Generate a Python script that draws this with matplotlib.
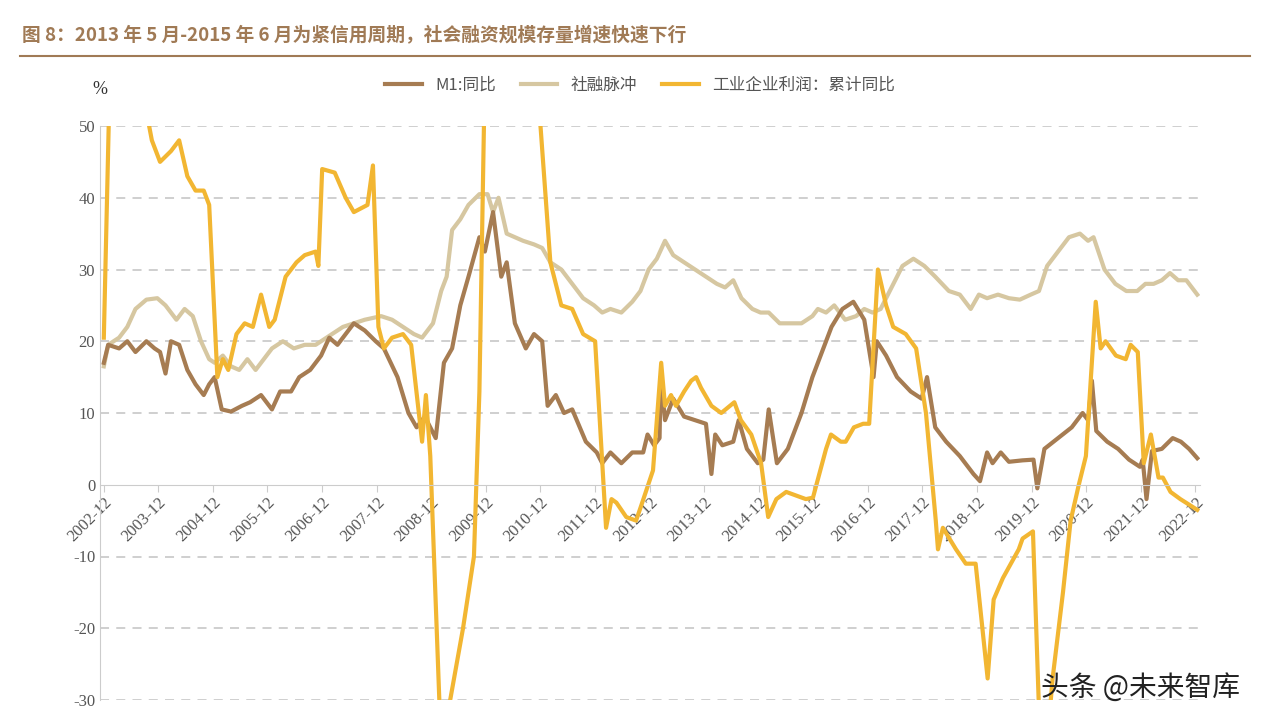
import matplotlib
matplotlib.use("Agg")
import matplotlib.pyplot as plt
import numpy as np

plt.rcParams['font.family'] = ['Noto Sans CJK SC', 'DejaVu Sans']
plt.rcParams['axes.unicode_minus'] = False

m1_t = [2002.92,2003.0,2003.2,2003.35,2003.5,2003.7,2003.85,2003.95,2004.05,2004.15,2004.3,2004.45,2004.6,2004.75,2004.85,2004.95,2005.08,2005.25,2005.45,2005.6,2005.8,2006.0,2006.15,2006.35,2006.5,2006.7,2006.9,2007.05,2007.2,2007.35,2007.5,2007.7,2007.9,2008.05,2008.3,2008.5,2008.65,2008.8,2009.0,2009.15,2009.3,2009.45,2009.6,2009.8,2009.9,2010.05,2010.2,2010.3,2010.45,2010.65,2010.8,2010.95,2011.05,2011.2,2011.35,2011.5,2011.75,2011.95,2012.05,2012.2,2012.4,2012.6,2012.8,2012.88,2013.0,2013.1,2013.12,2013.2,2013.35,2013.55,2013.75,2013.95,2014.05,2014.12,2014.25,2014.45,2014.55,2014.7,2014.9,2015.0,2015.1,2015.25,2015.45,2015.7,2015.9,2016.05,2016.25,2016.45,2016.65,2016.85,2017.02,2017.08,2017.25,2017.45,2017.7,2017.9,2018.0,2018.15,2018.35,2018.6,2018.85,2018.97,2019.1,2019.2,2019.35,2019.5,2019.75,2019.95,2020.02,2020.15,2020.4,2020.65,2020.85,2020.95,2021.02,2021.1,2021.3,2021.5,2021.7,2021.9,2021.95,2022.02,2022.12,2022.3,2022.5,2022.65,2022.8,2022.95]
m1_v = [17,19.5,19,20,18.5,20,19,18.5,15.5,20,19.5,16,14,12.5,14,15,10.5,10.2,11,11.5,12.5,10.5,13,13,15,16,18,20.5,19.5,21,22.5,21.5,20,19,15,10,8,9.5,6.5,17,19,25,29,34.5,32.5,38,29,31,22.5,19,21,20,11,12.5,10,10.5,6,4.5,3,4.5,3,4.5,4.5,7,5.5,6.5,15,9,12,9.5,9,8.5,1.5,7,5.5,6,9,5,3,3.5,10.5,3,5,10,15,18,22,24.5,25.5,23,15,20,18,15,13,12,15,8,6,4,1.5,0.5,4.5,3,4.5,3.2,3.4,3.5,-0.5,5,6.5,8,10,9,14.5,7.5,6,5,3.5,2.5,3.5,-2,4.7,5,6.5,6,5,3.7]

tsf_t = [2002.92,2003.0,2003.2,2003.35,2003.5,2003.7,2003.9,2004.05,2004.25,2004.4,2004.55,2004.7,2004.85,2004.95,2005.1,2005.25,2005.4,2005.55,2005.7,2005.85,2006.0,2006.2,2006.4,2006.6,2006.8,2007.0,2007.3,2007.5,2007.7,2008.0,2008.2,2008.4,2008.6,2008.75,2008.95,2009.1,2009.2,2009.3,2009.45,2009.6,2009.8,2009.95,2010.05,2010.15,2010.3,2010.45,2010.6,2010.8,2010.95,2011.1,2011.3,2011.5,2011.7,2011.9,2012.05,2012.2,2012.4,2012.6,2012.75,2012.9,2013.05,2013.2,2013.35,2013.55,2013.75,2013.95,2014.15,2014.3,2014.45,2014.6,2014.8,2014.95,2015.1,2015.3,2015.5,2015.7,2015.9,2016.0,2016.15,2016.3,2016.5,2016.7,2016.85,2017.0,2017.15,2017.35,2017.55,2017.75,2017.95,2018.15,2018.4,2018.6,2018.8,2018.95,2019.1,2019.3,2019.5,2019.7,2019.9,2020.05,2020.2,2020.4,2020.6,2020.8,2020.95,2021.05,2021.25,2021.45,2021.65,2021.85,2022.0,2022.15,2022.3,2022.45,2022.6,2022.75,2022.95]
tsf_v = [16.5,19.5,20.5,22,24.5,25.8,26,25,23,24.5,23.5,20,17.5,17,18,16.5,16,17.5,16,17.5,19,20,19,19.5,19.5,20.5,22,22.5,23,23.5,23,22,21,20.5,22.5,27,29,35.5,37,39,40.5,40.5,38,40,35,34.5,34,33.5,33,31,30,28,26,25,24,24.5,24,25.5,27,30,31.5,34,32,31,30,29,28,27.5,28.5,26,24.5,24,24,22.5,22.5,22.5,23.5,24.5,24,25,23,23.5,24.5,24,24.5,27.5,30.5,31.5,30.5,29,27,26.5,24.5,26.5,26,26.5,26,25.8,26.5,27,30.5,32.5,34.5,35,34,34.5,30,28,27,27,28,28,28.5,29.5,28.5,28.5,26.5]

ip_t = [2002.92,2003.1,2003.7,2003.8,2003.95,2004.15,2004.3,2004.45,2004.6,2004.75,2004.85,2005.0,2005.1,2005.2,2005.35,2005.5,2005.65,2005.8,2005.95,2006.05,2006.25,2006.45,2006.6,2006.8,2006.85,2006.92,2007.15,2007.35,2007.5,2007.75,2007.85,2007.95,2008.05,2008.2,2008.4,2008.55,2008.75,2008.82,2008.9,2009.1,2009.5,2009.7,2009.8,2009.95,2010.5,2010.9,2011.1,2011.3,2011.5,2011.7,2011.92,2012.12,2012.22,2012.31,2012.49,2012.67,2012.76,2012.98,2013.13,2013.2,2013.31,2013.4,2013.55,2013.68,2013.77,2013.86,2014.05,2014.23,2014.47,2014.59,2014.78,2014.96,2015.09,2015.24,2015.42,2015.6,2015.78,2015.91,2016.15,2016.24,2016.42,2016.51,2016.66,2016.83,2016.94,2017.1,2017.25,2017.38,2017.61,2017.8,2017.98,2018.16,2018.2,2018.29,2018.53,2018.71,2018.89,2019.11,2019.22,2019.39,2019.68,2019.75,2019.94,2020.08,2020.2,2020.3,2020.49,2020.63,2020.78,2020.91,2021.09,2021.18,2021.27,2021.46,2021.64,2021.73,2021.86,2021.97,2022.1,2022.24,2022.32,2022.46,2022.64,2022.95]
ip_v = [20.5,80,52,48,45,46.5,48,43,41,41,39,15,17.5,16,21,22.5,22,26.5,22,23,29,31,32,32.5,30.5,44,43.5,40,38,39,44.5,22,19,20.5,21,19.5,6,12.5,4,-37,-20,-10,13,80,70,52,31,25,24.5,21,20,-6,-2,-2.5,-4.5,-5,-3,2,17,11,12.5,11,13,14.5,15,13.5,11,10,11.5,9,7,3,-4.5,-2,-1,-1.5,-2,-1.8,5,7,6,6,8,8.5,8.5,30,25,22,21,19,10,-5,-9,-6,-9,-11,-11,-27,-16,-13,-9,-7.5,-6.5,-38,-36,-27,-15,-5,0,4,25.5,19,20,18,17.5,19.5,18.5,3,7,1,1,-1,-2,-3.5]

years = list(range(2002, 2023))
tick_labels = [f"{y}-12" for y in years]

fig = plt.figure(figsize=(12.64, 7.25), dpi=100)
ax = fig.add_axes([100/1264, 25/725, 1100/1264, 574/725])

c_m1, c_tsf, c_ip = '#a67c52', '#d6c7a1', '#f2b632'
ax.plot(tsf_t, tsf_v, color=c_tsf, lw=3, label='社融脉冲')
ax.plot(m1_t, m1_v, color=c_m1, lw=3, label='M1:同比')
ax.plot(ip_t, ip_v, color=c_ip, lw=3, label='工业企业利润：累计同比')

ax.set_ylim(-30, 50)
ax.set_xlim(2002.85, 2023.0)
ax.set_yticks(range(-30, 51, 10))
for y in range(-30, 51, 10):
    if y != 0:
        ax.axhline(y, color='#cccccc', lw=1.3, ls=(0, (5, 4)), zorder=0)

ax.spines['top'].set_visible(False)
ax.spines['right'].set_visible(False)
ax.spines['bottom'].set_position(('data', 0))
ax.spines['bottom'].set_color('#cccccc')
ax.spines['left'].set_color('#cccccc')
ax.set_xticks([y + 11/12 for y in years])
ax.set_xticklabels(tick_labels, rotation=45, ha='right', rotation_mode='anchor',
                   family='Liberation Serif', fontsize=12, color='#555555')
ax.tick_params(axis='x', length=5, color='#cccccc', pad=2)
ax.tick_params(axis='y', length=0, labelsize=12, colors='#555555')
for lab in ax.get_yticklabels():
    lab.set_family('Liberation Serif')

h, l = ax.get_legend_handles_labels()
order = [1, 0, 2]
fig.legend([h[i] for i in order], [l[i] for i in order], loc='center',
           bbox_to_anchor=(640/1264, 1-85/725), ncol=3, frameon=False,
           fontsize=12, handlelength=2.2, columnspacing=1.5,
           labelcolor='#555555')

fig.text(100/1264, 1-90/725, '%', fontsize=13, ha='center', va='center', color='#333333', family='Liberation Serif')
fig.text(22/1264, 1-36/725, '图 8：2013 年 5 月-2015 年 6 月为紧信用周期，社会融资规模存量增速快速下行',
         fontsize=13.5, fontweight='bold', color='#a07a55', va='center', ha='left')
fig.add_artist(plt.Line2D([20/1264, 1250/1264], [1-56/725, 1-56/725], color='#a07a55', lw=1.5))
fig.text(1240/1264, 1-688/725, '头条 @未来智库', fontsize=20, ha='right', va='center', color='#222222')

fig.savefig('out.png', dpi=100)
